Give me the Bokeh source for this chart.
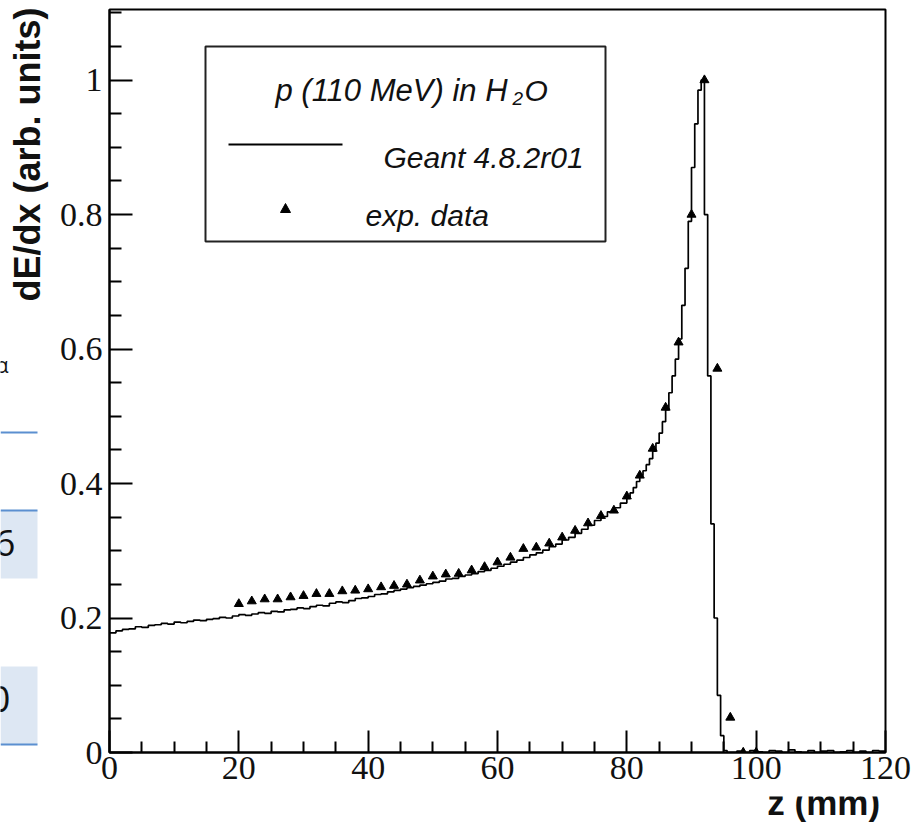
import numpy as np
from math import pi
from bokeh.plotting import figure
from bokeh.layouts import row, column
from bokeh.models import (Range1d, FixedTicker, CustomJSTickFormatter, Label,
                          BoxAnnotation, PolyAnnotation)
from bokeh.core.properties import value
from bokeh.embed import file_html
from bokeh.resources import INLINE

# ---------------- data ----------------
# Geant4 simulation histogram, bins of 1 mm from 0 to 80 mm
sim_low = [
    0.178, 0.181, 0.183, 0.184, 0.187, 0.186, 0.189, 0.190, 0.192, 0.191,
    0.194, 0.193, 0.195, 0.197, 0.196, 0.198, 0.199, 0.201, 0.200, 0.203,
    0.205, 0.204, 0.206, 0.208, 0.207, 0.210, 0.209, 0.212, 0.213, 0.215,
    0.214, 0.217, 0.219, 0.218, 0.222, 0.224, 0.223, 0.226, 0.229, 0.230,
    0.232, 0.235, 0.236, 0.239, 0.241, 0.243, 0.245, 0.247, 0.249, 0.251,
    0.253, 0.255, 0.258, 0.259, 0.262, 0.264, 0.266, 0.269, 0.271, 0.274,
    0.277, 0.280, 0.283, 0.286, 0.290, 0.294, 0.297, 0.301, 0.306, 0.310,
    0.316, 0.320, 0.326, 0.332, 0.338, 0.345, 0.351, 0.358, 0.364, 0.371,
]
# bins of 0.5 mm from 80 to 96 mm (Bragg peak region)
sim_peak = [
    0.378, 0.386, 0.394, 0.403, 0.412, 0.419, 0.428, 0.437,
    0.448, 0.460, 0.475, 0.492, 0.510, 0.535, 0.560, 0.585,
    0.615, 0.665, 0.720, 0.790, 0.870, 0.935, 0.985, 1.000,
    0.800, 0.560, 0.340, 0.200, 0.085, 0.025, 0.003, 0.000,
]
# bins of 1 mm from 96 to 120 mm (tail)
sim_tail = [
    0.000, 0.002, 0.000, 0.003, 0.001, 0.000, 0.003, 0.002, 0.000, 0.004,
    0.001, 0.000, 0.003, 0.000, 0.002, 0.003, 0.000, 0.001, 0.003, 0.000,
    0.002, 0.000, 0.003, 0.002,
]

# experimental data (z in mm, relative dE/dx)
exp_z = [20, 22, 24, 26, 28, 30, 32, 34, 36, 38, 40, 42, 44, 46, 48, 50,
         52, 54, 56, 58, 60, 62, 64, 66, 68, 70, 72, 74, 76, 78, 80, 82,
         84, 86, 88, 90, 92, 94, 96, 98, 100]
exp_dedx = [0.221, 0.225, 0.228, 0.228, 0.231, 0.233, 0.236, 0.236, 0.240,
            0.241, 0.243, 0.246, 0.248, 0.250, 0.256, 0.262, 0.265, 0.266,
            0.271, 0.276, 0.283, 0.290, 0.303, 0.305, 0.311, 0.320, 0.330,
            0.341, 0.352, 0.360, 0.381, 0.412, 0.452, 0.513, 0.610, 0.800,
            1.000, 0.571, 0.052, 0.000, 0.000]

x_major = [0, 20, 40, 60, 80, 100, 120]
y_major = [0, 0.2, 0.4, 0.6, 0.8, 1.0]

y_title = "dE/dx (arb. units)"
x_title = "z (mm)"

# histogram bin edges
edges = np.concatenate([np.arange(0, 80, 1.0), np.arange(80, 96, 0.5),
                        np.arange(96, 121, 1.0)])
vals = sim_low + sim_peak + sim_tail
step_y = vals + [vals[-1]]

SANS = "Liberation Sans"
INK = "#111111"

# ---------------- main figure ----------------
p = figure(width=860, height=796, x_range=Range1d(0, 120), y_range=Range1d(0, 1.105),
           output_backend="svg", toolbar_location=None,
           min_border_left=54, min_border_right=30, min_border_top=9,
           min_border_bottom=44)
p.background_fill_color = "white"
p.border_fill_color = "white"
p.grid.visible = False
p.outline_line_color = "black"
p.outline_line_width = 2
p.outline_line_alpha = 1

p.step(x=list(edges), y=step_y, mode="after", line_color="black", line_width=1.7)
p.scatter(x=exp_z, y=exp_dedx, marker="triangle", size=9,
          fill_color="black", line_color="black")

minor_x = [v for v in range(0, 121, 5) if v % 20]
minor_y = [round(0.05 * i, 2) for i in range(23) if i % 4]
p.xaxis.ticker = FixedTicker(ticks=x_major, minor_ticks=minor_x)
p.yaxis.ticker = FixedTicker(ticks=y_major, minor_ticks=minor_y)
p.xaxis.formatter = CustomJSTickFormatter(code="return String(Math.round(tick));")
p.yaxis.formatter = CustomJSTickFormatter(code="return String(Math.round(tick*100)/100);")

for ax, mj, mn in ((p.xaxis, 22, 11), (p.yaxis, 23, 12)):
    ax.major_tick_in = mj
    ax.major_tick_out = 0
    ax.minor_tick_in = mn
    ax.minor_tick_out = 0
    ax.major_tick_line_width = 2
    ax.minor_tick_line_width = 2
    ax.major_tick_line_color = "black"
    ax.minor_tick_line_color = "black"
    ax.axis_line_width = 2
    ax.axis_line_color = "black"
    ax.major_label_text_font = "Liberation Serif"
    ax.major_label_text_font_size = "34px"
    ax.major_label_text_color = INK
p.xaxis.major_label_standoff = 4
p.yaxis.major_label_standoff = 7

# legend box (drawn by hand, ROOT TLegend style)
p.add_layout(BoxAnnotation(left=96, right=496, top=706, bottom=511,
                           left_units="screen", right_units="screen",
                           top_units="screen", bottom_units="screen",
                           fill_color="white", fill_alpha=1,
                           line_color="#222222", line_alpha=1, line_width=2))
for txt, x, y, fs in (("p (110 MeV) in H", 166, 662, "31px"),
                      ("2", 403, 654, "19px"),
                      ("O", 415, 662, "30px"),
                      ("Geant 4.8.2r01", 274, 595, "30px"),
                      ("exp. data", 256, 537, "30px")):
    p.add_layout(Label(x=x, y=y, x_units="screen", y_units="screen", text=txt,
                       text_font=SANS, text_font_style="italic", text_font_size=fs,
                       text_align="left", text_baseline="alphabetic",
                       text_color=INK))
p.add_layout(PolyAnnotation(xs=[119, 233, 233, 119], ys=[608, 608, 608, 608],
                            xs_units="screen", ys_units="screen",
                            line_color="black", line_alpha=1, line_width=2,
                            fill_alpha=0))
p.add_layout(PolyAnnotation(xs=[171, 181, 176], ys=[540, 540, 549],
                            xs_units="screen", ys_units="screen",
                            line_color="black", line_alpha=1, line_width=1,
                            fill_color="black", fill_alpha=1))

# ---------------- left strip: y title + fragments of neighbouring slide ----------------
left = figure(width=55, height=827, x_range=Range1d(0, 55), y_range=Range1d(827, 0),
              output_backend="svg", toolbar_location=None,
              x_axis_type=None, y_axis_type=None, min_border=0)
left.grid.visible = False
left.outline_line_color = None
left.background_fill_color = "white"
left.border_fill_color = "white"

BLUE = "#5b8fd0"
LIGHT = "#dde7f3"
left.quad(left=[0, 0], right=[37, 37], top=[510, 666], bottom=[578, 744],
          fill_color=LIGHT, line_color=None)
left.quad(left=[0, 0, 0], right=[37, 37, 37], top=[431, 509, 743],
          bottom=[433, 511, 745], fill_color=BLUE, line_color=None)
left.text(x=[15, 10], y=[542, 698], text=["6", "0"], text_font=value("Open Sans"),
          text_font_size="37px", text_align="right", text_baseline="alphabetic",
          text_color=INK)
left.text(x=[8], y=[364], text=["α"], text_font=value("Open Sans"),
          text_font_size="21px", text_align="right", text_baseline="alphabetic",
          text_color=INK)
left.text(x=[27], y=[7], text=[y_title], angle=pi / 2, text_font=value(SANS),
          text_font_style="bold", text_font_size="36px", text_align="right",
          text_baseline="alphabetic", text_color=INK)

# ---------------- bottom strip: x title ----------------
bottom = figure(width=860, height=31, x_range=Range1d(0, 860), y_range=Range1d(31, 0),
                output_backend="svg", toolbar_location=None,
                x_axis_type=None, y_axis_type=None, min_border=0)
bottom.grid.visible = False
bottom.outline_line_color = None
bottom.background_fill_color = "white"
bottom.border_fill_color = "white"
bottom.text(x=[854], y=[6], text=[x_title], text_font=value(SANS),
            text_font_style="bold", text_font_size="35px", text_align="right",
            text_baseline="alphabetic", text_color=INK)

layout = row(left, column(p, bottom, spacing=0), spacing=0)

open("out.html", "w").write(file_html(layout, INLINE))
